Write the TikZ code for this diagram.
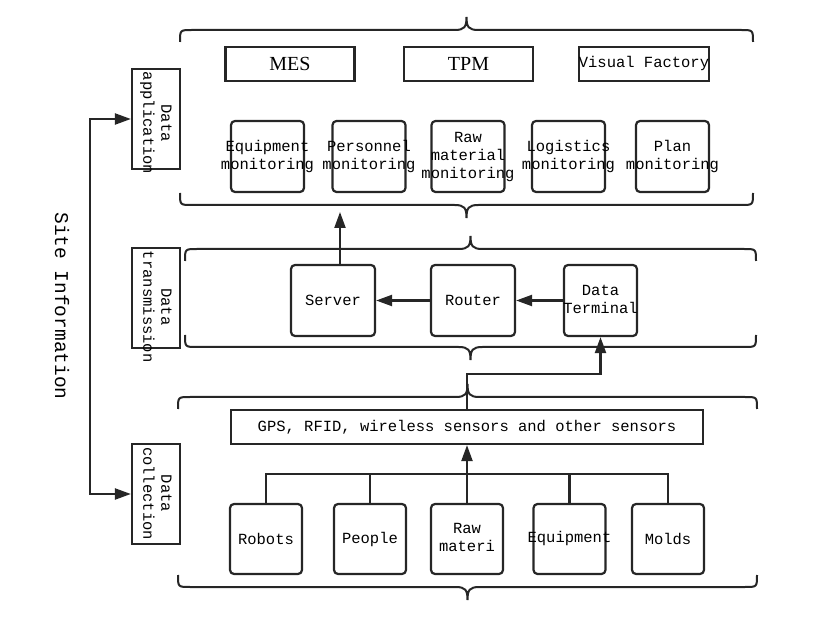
\documentclass[tikz,border=0pt]{standalone}
\usepackage{fontspec}
\setmainfont{Liberation Serif}
\setmonofont{Liberation Mono}
\usepackage{tikz}
\usetikzlibrary{calc,positioning,arrows.meta}
\newcommand{\ovl}[1]{\makebox[0pt]{\begin{tabular}{@{}c@{}}#1\end{tabular}}}
\newcommand{\lyr}[1]{\makebox[0pt][l]{\hspace*{-47pt}\begin{tabular}{@{}c@{}}#1\end{tabular}}}
% bracket line of a layer: left x, right x, y of the line, 1 = tip up / -1 = tip down
\newcommand{\bracket}[4]{%
	\draw[frame] (#1,#3+12*#4) .. controls (#1,#3) .. (#1+12,#3)
		-- ({(#1+#2)/2-12},#3) .. controls ({(#1+#2)/2-2},#3) and ({(#1+#2)/2},#3-3*#4) .. ({(#1+#2)/2},#3-13*#4)
		.. controls ({(#1+#2)/2},#3-3*#4) and ({(#1+#2)/2+2},#3) .. ({(#1+#2)/2+12},#3)
		-- (#2-12,#3) .. controls (#2,#3) .. (#2,#3+12*#4);}
\begin{document}
\begin{tikzpicture}[x=1pt,y=-1pt,color=black!85,text=black,
	every node/.style={font=\fontsize{15.5}{18}\selectfont\ttfamily},
	sbox/.style={draw, line width=2.2pt, rounded corners=4pt, minimum width=73pt, minimum height=71pt, inner sep=0pt},
	tbox/.style={draw, line width=2.2pt, minimum width=129pt, minimum height=34pt, inner sep=0pt},
	layer/.style={draw, line width=2.2pt, rotate=-90, minimum width=100pt, minimum height=48pt, inner sep=0pt},
	frame/.style={line width=2pt},
	arr/.style={line width=2.2pt, -{Triangle[length=16pt,width=11pt]}}]
	\useasboundingbox (0,0) rectangle (831,620);
	% layers on the left
	\node[rotate=-90, font=\fontsize{19.5}{22}\selectfont\ttfamily] (site) at (62,306) {Site Information};
	\node[layer] (dapp) at (156,119) {\lyr{Data\\application}};
	\node[layer] (dtra) at (156,298) {\lyr{Data\\transmission}};
	\node[layer] (dcol) at (156,494) {\lyr{Data\\collection}};
	\coordinate (spine) at (90,306);
	\draw[arr] (spine) |- (dapp);
	\draw[arr] (spine) |- (dcol);
	% frames
	\bracket{180}{753}{30}{1}
	\bracket{180}{753}{205}{-1}
	\bracket{185}{756}{249}{1}
	\bracket{185}{756}{347}{-1}
	\bracket{178}{757}{397}{1}
	\bracket{178}{757}{587}{-1}
	% data application
	\node[tbox, font=\fontsize{20}{22}\selectfont\rmfamily] (mes) at (290,64) {MES};
	\node[tbox, font=\fontsize{20}{22}\selectfont\rmfamily] (tpm) at (468.5,64) {TPM};
	\node[tbox, minimum width=130pt] (vis) at (644,64) {\ovl{Visual Factory}};
	\node[sbox] (equmon) at (267.5,156.5) {\ovl{Equipment\\monitoring}};
	\node[sbox] (permon) at (369,156.5) {\ovl{Personnel\\monitoring}};
	\node[sbox] (rawmon) at (468,156.5) {\ovl{Raw\\material\\monitoring}};
	\node[sbox] (logmon) at (568.5,156.5) {\ovl{Logistics\\monitoring}};
	\node[sbox] (plamon) at (672.5,156.5) {\ovl{Plan\\monitoring}};
	% data transmission
	\node[sbox, minimum width=84pt] (server) at (333,300.5) {Server};
	\node[sbox, minimum width=84pt] (router) at (473,300.5) {Router};
	\node[sbox] (term) at (600.5,300.5) {\ovl{Data\\Terminal}};
	\coordinate (appin) at (340,212);
	\draw[arr] (router) -- (server);
	\draw[arr] (term) -- (router);
	\draw[arr] (server.north -| appin) -- (appin);
	% data collection
	\node[tbox, minimum width=472pt] (sens) at (467,427) {GPS, RFID, wireless sensors and other sensors};
	\coordinate (hub) at (467,374);
	\draw[arr] (sens.north) -- (hub) -| (term.south);
	\node[sbox, minimum width=72pt, minimum height=70pt] (robots) at (266,539) {Robots};
	\node[sbox, minimum width=72pt, minimum height=70pt] (people) at (370,539) {People};
	\node[sbox, minimum width=72pt, minimum height=70pt] (raw) at (467,539) {\ovl{Raw\\materi}};
	\node[sbox, minimum width=72pt, minimum height=70pt] (equ) at (569.5,539) {\ovl{Equipment}};
	\node[sbox, minimum width=72pt, minimum height=70pt] (molds) at (668,539) {Molds};
	\coordinate (bus) at (0,474);
	\draw[line width=2.2pt] (robots.north) -- (robots.north |- bus) -- (molds.north |- bus) -- (molds.north);
	\draw[line width=2.2pt] (people.north) -- (people.north |- bus);
	\draw[line width=2.2pt] (equ.north) -- (equ.north |- bus);
	\draw[arr] (raw.north) -- (sens.south);
\end{tikzpicture}
\end{document}
